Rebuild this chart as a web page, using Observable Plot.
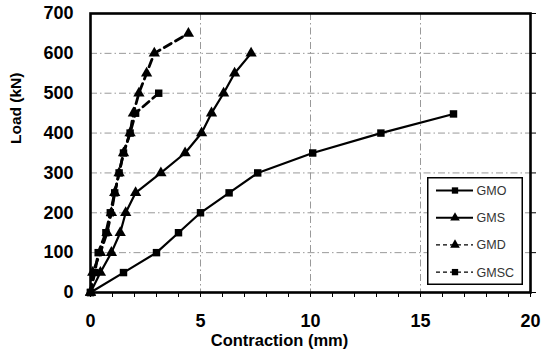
<!DOCTYPE html>
<html>
<head>
<meta charset="utf-8">
<script src="https://cdn.jsdelivr.net/npm/d3@7"></script>
<script src="https://cdn.jsdelivr.net/npm/@observablehq/plot@0.6"></script>
<style>
  html, body { margin: 0; padding: 0; background: #fff; }
  #wrap { position: relative; width: 542px; height: 353px; font-family: "Liberation Sans", Arial, sans-serif; }
  #legend { position: absolute; left: 427px; top: 177px; }
</style>
</head>
<body>
<div id="wrap"><div id="chart"></div><div id="legend"></div></div>
<script>
// ---- data (contraction in mm, load in kN) ----
const seriesNames = ["GMO", "GMS", "GMD", "GMSC"];
const gmoContraction  = [0, 1.5, 3.0, 4.0, 5.0, 6.3, 7.6, 10.1, 13.2, 16.5];
const gmoLoad         = [0, 50, 100, 150, 200, 250, 300, 350, 400, 448];
const gmsContraction  = [0, 0.45, 0.95, 1.35, 1.6, 2.05, 3.2, 4.3, 5.05, 5.5, 6.05, 6.55, 7.3];
const gmsLoad         = [0, 50, 100, 150, 200, 250, 300, 350, 400, 450, 500, 550, 600];
const gmdContraction  = [0, 0.1, 0.45, 0.75, 0.95, 1.1, 1.3, 1.5, 1.8, 1.95, 2.2, 2.55, 2.9, 4.45];
const gmdLoad         = [0, 50, 100, 150, 200, 250, 300, 350, 400, 450, 500, 550, 600, 650];
const gmscContraction = [0, 0.2, 0.35, 0.7, 0.9, 1.1, 1.3, 1.5, 1.8, 2.05, 3.1];
const gmscLoad        = [0, 50, 100, 150, 200, 250, 300, 350, 400, 450, 500];
const xTickLabels = [0, 5, 10, 15, 20];
const yTickLabels = [0, 100, 200, 300, 400, 500, 600, 700];
const xTitle = "Contraction (mm)";
const yTitle = "Load (kN)";

const seriesX = [gmoContraction, gmsContraction, gmdContraction, gmscContraction];
const seriesY = [gmoLoad, gmsLoad, gmdLoad, gmscLoad];
const data = seriesNames.flatMap((name, i) =>
  seriesX[i].map((x, j) => ({series: name, x, y: seriesY[i][j]})));

const style = {
  GMO:  {symbol: "square",   dash: null,  width: 2.2},
  GMS:  {symbol: "triangle", dash: null,  width: 2.2},
  GMD:  {symbol: "triangle", dash: "8,5", width: 2.8},
  GMSC: {symbol: "square",   dash: "8,5", width: 2.8}
};

const font = '"Liberation Sans", Arial, sans-serif';
const gridDash = "7,3,1.5,3";
const noLabel = () => "";

const marks = [
  Plot.gridY(yTickLabels.filter(d => d > 0 && d < 700), {stroke: "#999", strokeOpacity: 1, strokeWidth: 1, strokeDasharray: gridDash}),
  Plot.gridX(xTickLabels.filter(d => d > 0 && d < 20), {stroke: "#999", strokeOpacity: 1, strokeWidth: 1, strokeDasharray: gridDash}),
  // minor x ticks below axis
  Plot.axisX(d3.range(0, 21), {tickSize: 5, tickFormat: noLabel, anchor: "bottom", label: null, strokeWidth: 1}),
  // x labels
  Plot.axisX(xTickLabels, {tickSize: 0, tickPadding: 22, anchor: "bottom", label: null, fontSize: 18, fontWeight: "bold", fill: "#000"}),
  // y labels
  Plot.axisY(yTickLabels, {tickSize: 0, tickPadding: 17, anchor: "left", label: null, fontSize: 18, fontWeight: "bold", fill: "#000"}),
  // right ticks
  Plot.axisY(yTickLabels, {tickSize: 5, tickFormat: noLabel, anchor: "right", label: null, strokeWidth: 1}),
  Plot.frame({stroke: "#000", strokeWidth: 2.6})
];

for (const name of seriesNames) {
  const s = style[name];
  const sub = data.filter(d => d.series === name);
  marks.push(Plot.line(sub, {x: "x", y: "y", stroke: "#000", strokeWidth: s.width, strokeDasharray: s.dash}));
  marks.push(Plot.dot(sub, {x: "x", y: "y", symbol: () => s.symbol, fill: "#000", stroke: "none", r: 4.2}));
}

marks.push(Plot.text([xTitle], {frameAnchor: "bottom", text: d => d, dx: -31, dy: 48, fontSize: 16.5, fontWeight: "bold", fill: "#000", lineAnchor: "middle"}));
marks.push(Plot.text([yTitle], {frameAnchor: "left", text: d => d, rotate: -90, dx: -74, dy: -9, fontSize: 15.5, fontWeight: "bold", fill: "#000", lineAnchor: "middle"}));

const chart = Plot.plot({
  width: 542,
  height: 353,
  marginLeft: 90,
  marginRight: 12,
  marginTop: 13,
  marginBottom: 61,
  style: {fontFamily: font, background: "#fff", overflow: "visible"},
  x: {domain: [0, 20]},
  y: {domain: [0, 700]},
  symbol: {type: "identity"},
  marks
});
document.getElementById("chart").appendChild(chart);

// ---- legend ----
const lw = 96, lh = 108;
const lg = d3.select("#legend").append("svg").attr("width", lw).attr("height", lh);
lg.append("rect").attr("x", 0.75).attr("y", 0.75).attr("width", lw - 1.5).attr("height", lh - 1.5)
  .attr("fill", "#fff").attr("stroke", "#000").attr("stroke-width", 1.5);
seriesNames.forEach((name, i) => {
  const s = style[name];
  const cy = 13.5 + i * 27.2;
  lg.append("line").attr("x1", 9).attr("x2", 46).attr("y1", cy).attr("y2", cy)
    .attr("stroke", "#000").attr("stroke-width", s.dash ? 1.3 : 2)
    .attr("stroke-dasharray", s.dash ? "4,3" : null);
  lg.append("path").attr("transform", `translate(28,${cy})`)
    .attr("d", d3.symbol(s.symbol === "square" ? d3.symbolSquare : d3.symbolTriangle, 40)())
    .attr("fill", "#000");
  lg.append("text").attr("x", 49.5).attr("y", cy).attr("dy", "0.36em")
    .attr("font-family", font).attr("font-size", 12.5).attr("fill", "#333")
    .text(name);
});
</script>
</body>
</html>
